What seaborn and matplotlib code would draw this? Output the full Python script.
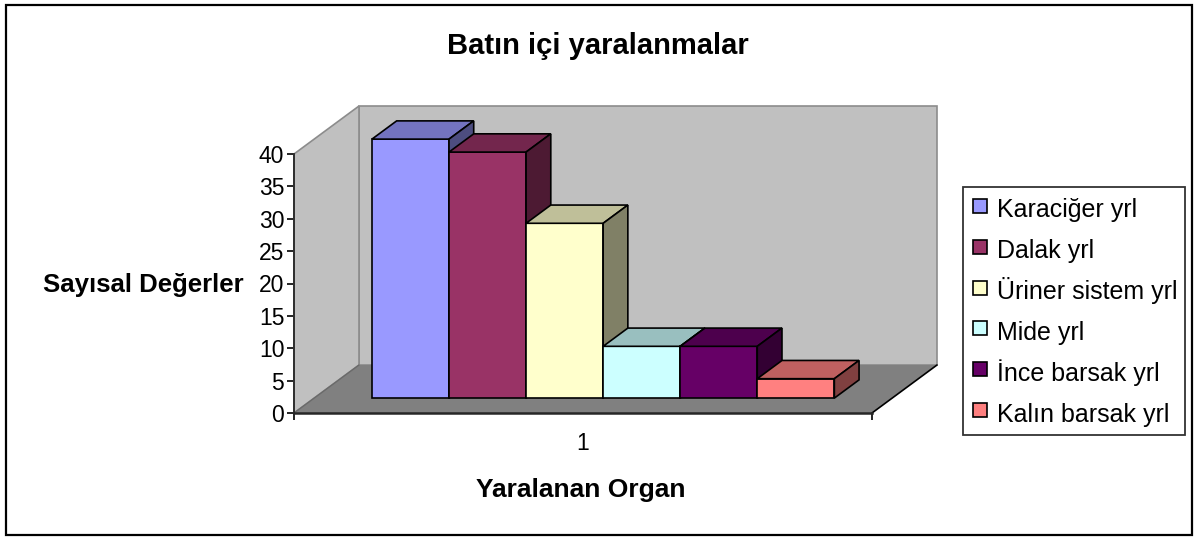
import numpy as np
import pandas as pd
import matplotlib
matplotlib.use('Agg')
import matplotlib.pyplot as plt
import matplotlib.transforms as mtransforms
from matplotlib.patches import Polygon, Rectangle
from matplotlib.lines import Line2D
from matplotlib.colors import to_rgb
import seaborn as sns

# veriler
organlar = ['Karaciğer yrl', 'Dalak yrl', 'Üriner sistem yrl', 'Mide yrl',
            'İnce barsak yrl', 'Kalın barsak yrl']
degerler = [40, 38, 27, 8, 8, 3]
grup = ['1'] * len(organlar)
renkler = ['#9999FF', '#993366', '#FFFFCC', '#CCFFFF', '#660066', '#FF8080']
yticks = [0, 5, 10, 15, 20, 25, 30, 35, 40]

sns.set_style('white')
plt.rcParams['font.family'] = ['Liberation Sans', 'DejaVu Sans']
for k in ['text.color', 'axes.labelcolor', 'xtick.color', 'ytick.color']:
    plt.rcParams[k] = 'black'

W, H = 1198, 539
fig = plt.figure(figsize=(W / 100, H / 100), dpi=100)

# axes = on kenar duzlemi
ax = fig.add_axes([294 / W, (H - 413) / H, 578 / W, 259 / H])
ax.patch.set_visible(False)

df = pd.DataFrame({'grup': grup, 'organ': organlar, 'deger': degerler})
sns.barplot(data=df, x='grup', y='deger', hue='organ', hue_order=organlar,
            palette=renkler, edgecolor='black', linewidth=1.2, ax=ax,
            legend=False, saturation=1)
bars = list(ax.patches)

ax.set_xlim(-0.5, 0.5)
ax.set_ylim(0, 40)
ax.set_yticks(yticks)
ax.set_xticks([0])
ax.set_xticklabels(['1'])
ax.set_xticks([-0.5, 0.5], minor=True)
ax.set_xlabel('')
ax.set_ylabel('')
for s in ['top', 'right']:
    ax.spines[s].set_visible(False)
ax.spines['left'].set_linewidth(1.3)
ax.spines['bottom'].set_linewidth(1.8)
ax.tick_params(axis='y', direction='out', length=5, width=1.2, pad=2,
               labelsize=16.5, left=True)
ax.tick_params(axis='x', which='major', length=0, pad=14, labelsize=16.5)
ax.tick_params(axis='x', which='minor', direction='out', length=5, width=1.2,
               bottom=True)

# derinlik (piksel -> veri)
sx = ax.bbox.width / 1.0
sy = ax.bbox.height / 40.0
DX, DY = 65 / sx, 48 / sy
x0, x1 = -0.5, 0.5

wall = '#C0C0C0'
floor = '#808080'
ax.add_patch(Polygon([(x0 + DX, DY), (x1 + DX, DY), (x1 + DX, 40 + DY), (x0 + DX, 40 + DY)],
                     closed=True, facecolor=wall, edgecolor='#8c8c8c', lw=1.2,
                     clip_on=False, zorder=0.5))
ax.add_patch(Polygon([(x0, 0), (x0, 40), (x0 + DX, 40 + DY), (x0 + DX, DY)],
                     closed=True, facecolor=wall, edgecolor='#8c8c8c', lw=1.2,
                     clip_on=False, zorder=0.6))
ax.add_patch(Polygon([(x0, 0), (x1, 0), (x1 + DX, DY), (x0 + DX, DY)],
                     closed=True, facecolor=floor, edgecolor='none',
                     clip_on=False, zorder=0.7))
ax.plot([x1, x1 + DX], [0, DY], color='black', lw=1.2, clip_on=False, zorder=0.8)
ax.plot([x0, x0 + DX], [0, DY], color='#6a6a6a', lw=1.0, clip_on=False, zorder=0.8)

# 3B cubuklar
f0, f1 = 0.31, 0.69
for i, (p, c) in enumerate(zip(bars, renkler)):
    z = 2 + i * 0.1
    bx, bw, bh = p.get_x(), p.get_width(), p.get_height()
    p.set_transform(mtransforms.Affine2D().translate(f0 * DX, f0 * DY) + ax.transData)
    p.set_clip_on(False)
    p.set_zorder(z)
    rgb = np.array(to_rgb(c))
    top = [(bx + f0 * DX, bh + f0 * DY), (bx + bw + f0 * DX, bh + f0 * DY),
           (bx + bw + f1 * DX, bh + f1 * DY), (bx + f1 * DX, bh + f1 * DY)]
    side = [(bx + bw + f0 * DX, f0 * DY), (bx + bw + f1 * DX, f1 * DY),
            (bx + bw + f1 * DX, bh + f1 * DY), (bx + bw + f0 * DX, bh + f0 * DY)]
    ax.add_patch(Polygon(top, closed=True, facecolor=rgb * 0.75, edgecolor='black',
                         lw=1.2, clip_on=False, zorder=z + 0.01))
    ax.add_patch(Polygon(side, closed=True, facecolor=rgb * 0.5, edgecolor='black',
                         lw=1.2, clip_on=False, zorder=z + 0.02))

# basliklar
fig.text(598 / W, 1 - 46 / H, 'Batın içi yaralanmalar', ha='center', va='center',
         fontsize=21, fontweight='bold')
fig.text(143 / W, 1 - 285 / H, 'Sayısal Değerler', ha='center', va='center',
         fontsize=18.5, fontweight='bold')
fig.text(581 / W, 1 - 490 / H, 'Yaralanan Organ', ha='center', va='center',
         fontsize=19, fontweight='bold')

# lejant
handles = [Line2D([], [], ls='none', marker='s', markersize=10.5,
                  markerfacecolor=c, markeredgecolor='black', markeredgewidth=1.2)
           for c in renkler]
leg = fig.legend(handles, organlar, loc='upper left',
                 bbox_to_anchor=(963 / W, 1 - 187 / H), fontsize=18,
                 frameon=True, fancybox=False, edgecolor='black', numpoints=1,
                 handlelength=0.78, handleheight=1.4, handletextpad=0.27,
                 labelspacing=0.48, borderpad=0.3, borderaxespad=0)
leg.get_frame().set_linewidth(1.3)

# dis cerceve
fig.patches.append(Rectangle((6 / W, 1 - 535 / H), 1186 / W, 530 / H,
                             transform=fig.transFigure, fill=False,
                             edgecolor='black', lw=1.6))

fig.savefig('out.png', dpi=100)
